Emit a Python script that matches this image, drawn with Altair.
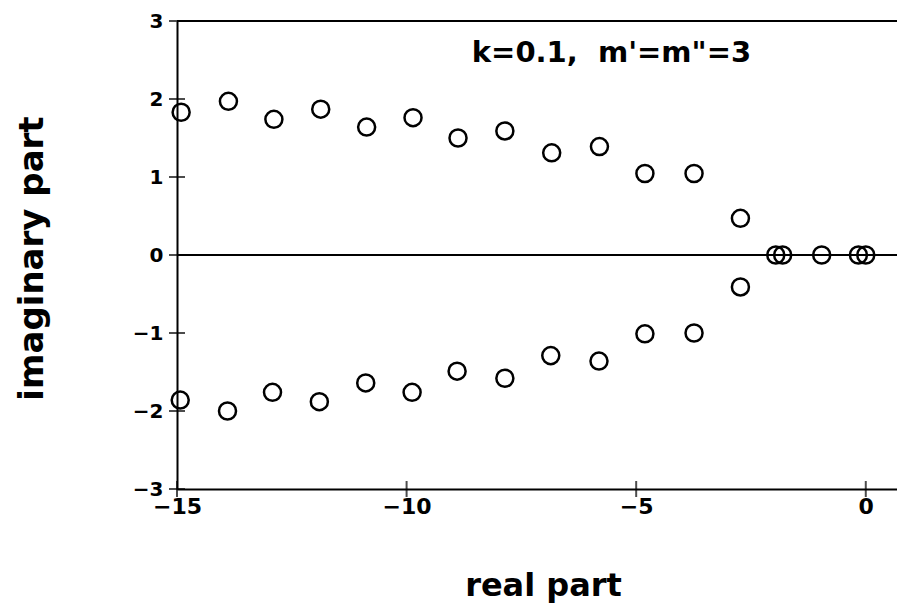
import altair as alt
import pandas as pd

# upper branch (real, imag)
up_re = [-14.91, -13.88, -12.89, -11.87, -10.87, -9.86, -8.88, -7.86, -6.84, -5.80, -4.81, -3.74, -2.73]
up_im = [1.83, 1.97, 1.74, 1.87, 1.64, 1.76, 1.50, 1.59, 1.31, 1.39, 1.045, 1.045, 0.47]
# lower branch
lo_re = [-14.93, -13.90, -12.92, -11.90, -10.89, -9.88, -8.90, -7.86, -6.86, -5.81, -4.81, -3.74, -2.73]
lo_im = [-1.86, -2.00, -1.76, -1.88, -1.64, -1.76, -1.49, -1.58, -1.29, -1.36, -1.01, -1.00, -0.41]
# real-axis points
ax_re = [-1.96, -1.81, -0.96, -0.16, 0.0]
ax_im = [0.0, 0.0, 0.0, 0.0, 0.0]

x_ticks = [-15, -10, -5, 0]
y_ticks = [-3, -2, -1, 0, 1, 2, 3]

FONT = "DejaVu Sans"

pts = pd.DataFrame({
    "re": up_re + lo_re + ax_re,
    "im": up_im + lo_im + ax_im,
})

xs = alt.Scale(domain=[-15, 0.68], nice=False, zero=False)
ys = alt.Scale(domain=[-3, 3], nice=False, zero=False)

base_x = alt.X("re:Q", scale=xs, axis=alt.Axis(
    values=x_ticks, format="d", ticks=False, grid=False, domainWidth=2, domainColor="black",
    labelFont=FONT, labelFontSize=22, labelFontWeight="bold", labelColor="black",
    labelFlush=False, labelPadding=7, title="real part", titleFont=FONT, titleFontSize=32,
    titleFontWeight="bold", titleColor="black", titleX=366, titleY=96,
    titleBaseline="middle", titleAlign="center"))
base_y = alt.Y("im:Q", scale=ys, axis=alt.Axis(
    values=y_ticks, format="d", ticks=False, grid=False, domainWidth=2, domainColor="black",
    labelFont=FONT, labelFontSize=20, labelFontWeight="bold", labelColor="black",
    labelPadding=14, title="imaginary part", titleFont=FONT, titleFontSize=34,
    titleFontWeight="bold", titleColor="black", titleX=-145, titleY=237,
    titleAngle=-90, titleBaseline="middle", titleAlign="center"))

points = alt.Chart(pts).mark_point(
    shape="circle", filled=False, size=290, strokeWidth=2.5, color="black", opacity=1
).encode(x=base_x, y=base_y)

hlines = alt.Chart(pd.DataFrame({"im": [0, 3]})).mark_rule(
    color="black", strokeWidth=2).encode(y=alt.Y("im:Q", scale=ys))

yt = alt.Chart(pd.DataFrame({"re": [-15] * len(y_ticks), "im": y_ticks})).mark_tick(
    orient="horizontal", size=16, thickness=2, color="black").encode(
    x=alt.X("re:Q", scale=xs), y=alt.Y("im:Q", scale=ys))

xt = alt.Chart(pd.DataFrame({"re": x_ticks, "im": [-3] * len(x_ticks)})).mark_tick(
    orient="vertical", size=16, thickness=2, color="black").encode(
    x=alt.X("re:Q", scale=xs), y=alt.Y("im:Q", scale=ys))

label = alt.Chart(pd.DataFrame({"re": [-8.58], "im": [2.59], "t": ["k=0.1,\u00a0\u00a0m'=m\"=3"]})).mark_text(
    align="left", baseline="middle", font=FONT, fontSize=29, fontWeight="bold", color="black"
).encode(x=alt.X("re:Q", scale=xs), y=alt.Y("im:Q", scale=ys), text="t:N")

chart = alt.layer(points, hlines, yt, xt, label).properties(
    width=720, height=468,
    autosize=alt.AutoSizeParams(type="none"),
    padding={"left": 169, "top": 13, "right": 0, "bottom": 120},
).configure_view(strokeWidth=0).configure(background="white")

chart.save("out.html", embed_options={"renderer": "svg", "actions": False})
